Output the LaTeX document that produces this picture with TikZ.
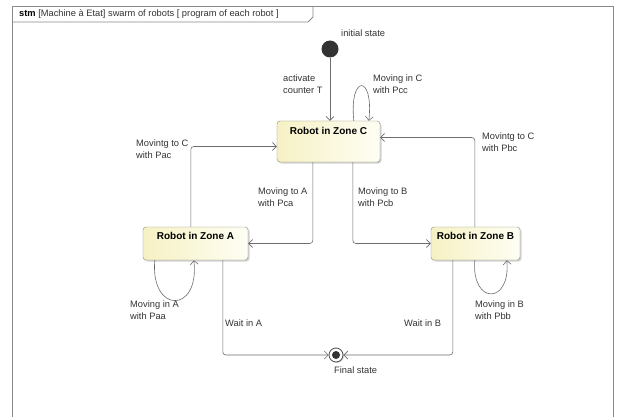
\documentclass[tikz,border=0pt]{standalone}
\usepackage{fontspec}
\setmainfont{Liberation Sans}
\usetikzlibrary{arrows.meta,shadows,calc}
\definecolor{stfill}{HTML}{F6F1C4}
\definecolor{stfill2}{HTML}{FEFEF4}
\definecolor{stborder}{HTML}{8C8C70}
\definecolor{lncol}{HTML}{6E6E6E}
\definecolor{frcol}{HTML}{8A8A8A}
\tikzset{
  statebox/.style={draw=stborder, rounded corners=3pt, left color=stfill, right color=stfill2,
    inner sep=0pt, drop shadow={shadow xshift=1.5pt, shadow yshift=-1.5pt, opacity=0.35, fill=gray}},
  sttitle/.style={anchor=north, inner sep=0pt, font=\bfseries\fontsize{10}{12}\selectfont},
  lbl/.style={align=left, inner sep=0pt, anchor=north west, font=\fontsize{9.3}{12.5}\selectfont, text=black!80},
  tr/.style={draw=lncol, line width=0.6pt, rounded corners=3pt, -{Straight Barb[length=4pt,width=8pt,line width=0.6pt]}},
}
\begin{document}
\begin{tikzpicture}[x=1pt,y=-1pt]
\useasboundingbox (0,0) rectangle (618,417);
\fill[white] (0,0) rectangle (618,417);
\begin{scope}
\clip (0,0) rectangle (618,417);
% frame
\draw[frcol, line width=0.8pt] (12.5,6) rectangle (613,425);
\draw[frcol, line width=0.8pt] (12.5,22) -- (308,22) -- (313,17) -- (313,6);
\node[anchor=west, inner sep=0pt, font=\fontsize{9.3}{11}\selectfont] (hdr) at (19,14.5)
  {\textbf{stm} \textcolor{black!80}{[Machine à Etat] swarm of robots [ program of each robot ]}};

% states
\node[statebox, minimum width=103pt, minimum height=41pt] (C) at (328.5,141.5) {};
\node[sttitle] (Ct) at ([yshift=-6pt]C.north) {Robot in Zone C};
\node[statebox, minimum width=105pt, minimum height=33pt] (A) at (195.5,243.5) {};
\node[sttitle] (At) at ([yshift=-5pt]A.north) {Robot in Zone A};
\node[statebox, minimum width=89pt, minimum height=33pt] (B) at (475.5,243.5) {};
\node[sttitle] (Bt) at ([yshift=-5pt]B.north) {Robot in Zone B};

% initial and final
\node[circle, fill=black!80, minimum size=17pt, inner sep=0pt] (init) at (330,49) {};
\node[circle, draw=black!70, fill=white, line width=0.8pt, minimum size=14pt, inner sep=0pt,
  drop shadow={shadow xshift=1pt, shadow yshift=-1pt, opacity=0.3, fill=gray}] (fin) at (336,355) {};
\node[circle, fill=black!80, minimum size=8pt, inner sep=0pt] (finc) at (fin) {};

% transitions
\draw[tr] (init) -- (init |- C.north);
\draw[tr] ([xshift=77pt]C.north west) .. controls (349,74) and (374,74) .. ([xshift=92pt]C.north west);
\draw[tr] ([xshift=44pt]B.north west) |- ([yshift=4pt]C.east);
\draw[tr] ([xshift=76pt]C.south west) |- (B.west);
\draw[tr] ([xshift=36pt]C.south west) |- (A.east);
\draw[tr] ([xshift=48pt]A.north west) |- ([yshift=-5pt]C.west);
\draw[tr] ([xshift=12pt]A.south west) .. controls (150,314) and (200,314) .. ([xshift=51pt]A.south west);
\draw[tr] ([xshift=44pt]B.south west) .. controls (471,305) and (511,305) .. ([xshift=76pt]B.south west);
\draw[tr] ([xshift=80pt]A.south west) |- (fin.west);
\draw[tr] ([xshift=22pt]B.south west) |- (fin.east);

% labels
\node[lbl, anchor=west] (l0) at (341,33) {initial state};
\node[lbl] (l1) at (283,74.5) {activate\\counter T};
\node[lbl] (l2) at (373,74.5) {Moving in C\\with Pcc};
\node[lbl] (l3) at (482,132.5) {Movintg to C\\with Pbc};
\node[lbl] (l4) at (358,187.5) {Moving to B\\with Pcb};
\node[lbl] (l5) at (258,187.5) {Moving to A\\with Pca};
\node[lbl] (l6) at (136,139.5) {Movintg to C\\with Pac};
\node[lbl] (l7) at (130,300.5) {Moving in A\\with Paa};
\node[lbl] (l8) at (475,300.5) {Moving in B\\with Pbb};
\node[lbl] (l9) at (225,319.5) {Wait in A};
\node[lbl] (l10) at (404,319.5) {Wait in B};
\node[lbl] (l11) at (334,366.5) {Final state};
\end{scope}
\end{tikzpicture}
\end{document}
